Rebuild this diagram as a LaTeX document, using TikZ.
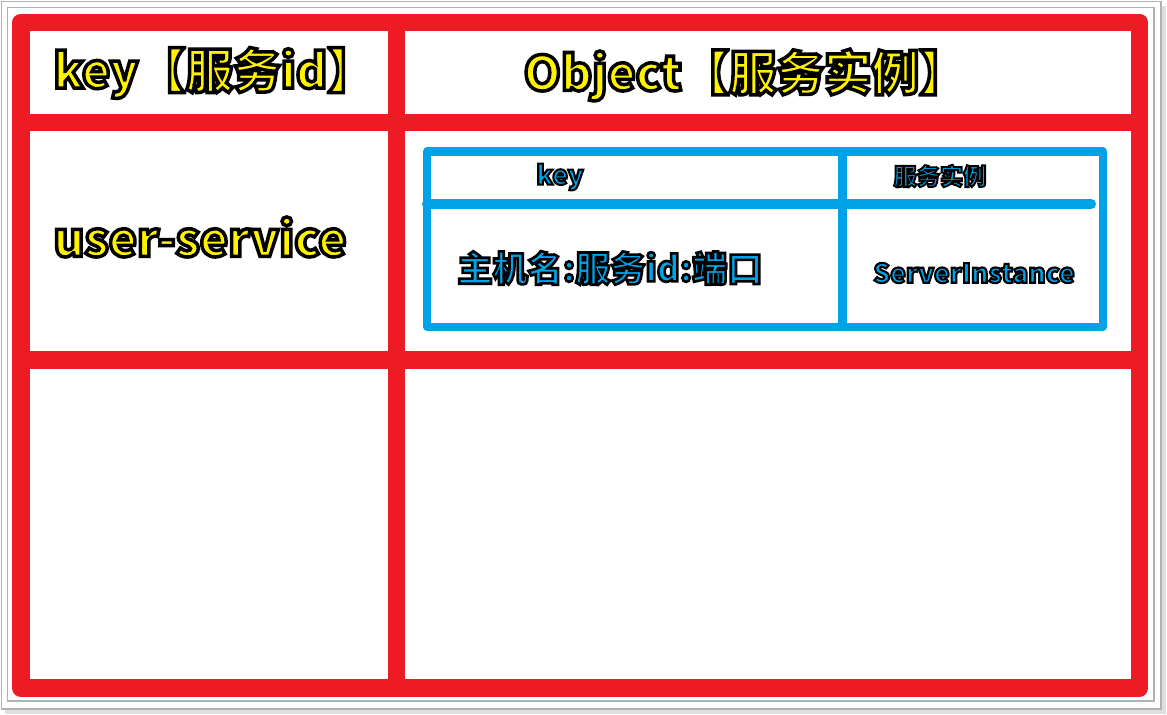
\documentclass[tikz,border=0pt]{standalone}
\usepackage{fontspec}
\newfontfamily\cjk{Noto Sans CJK SC}[BoldFont={Noto Sans CJK SC Black}]
\usetikzlibrary{positioning}
\definecolor{framered}{RGB}{237,28,36}
\definecolor{tableblue}{RGB}{0,162,232}
\definecolor{labelyellow}{RGB}{255,242,0}
\newcommand{\outlined}[3]{{\color{#1}\special{pdf:literal direct 0 0 0 RG 2 Tr #2 w}#3\special{pdf:literal direct 0 Tr}}}
\tikzset{
  redline/.style={draw=framered, line width=10.2pt, line join=round},
  blueline/.style={draw=tableblue, line width=4.6pt, line join=round},
  biglabel/.style={inner sep=0pt, font=\cjk\bfseries\fontsize{27}{30}\selectfont},
  midlabel/.style={inner sep=0pt, font=\cjk\bfseries\fontsize{20}{24}\selectfont},
  smalllabel/.style={inner sep=0pt, font=\cjk\bfseries\fontsize{15}{18}\selectfont}
}

\begin{document}
\begin{tikzpicture}[x=0.02cm, y=-0.02cm]
        \useasboundingbox (0,0) rectangle (1167,715);
        \fill[white] (0,0) rectangle (1167,715);
        \fill[gray!25] (5,6) rectangle (1166,714);
        \fill[white, draw=gray!60, line width=0.6pt] (1.5,1.5) rectangle (1161,709);
        \draw[gray!60, line width=0.6pt] (7.5,7.5) rectangle (1154,701);
        \draw[redline] (21,22.5) rectangle (1139.5,688);
        \draw[redline] (396.5,22.5) -- (396.5,688);
        \draw[redline] (21,122.5) -- (1139.5,122.5);
        \draw[redline] (21,360) -- (1139.5,360);
        \draw[blueline] (427,151.5) rectangle (1103,327);
        \draw[blueline] (842.5,151.5) -- (842.5,327);
        \draw[draw=tableblue, line width=5.7pt, line cap=round] (427,204) -- (1091,204);
        \node[biglabel] (kh) at (214,73) {\outlined{labelyellow}{2.0}{key【服务id】}};
        \node[biglabel] (oh) at (745,75) {\outlined{labelyellow}{2.0}{Object【服务实例】}};
        \node[biglabel] (us) at (200,237) {\outlined{labelyellow}{2.0}{user-service}};
        \node[smalllabel] (ik) at (560,177) {\outlined{tableblue}{1.2}{key}};
        \node[smalllabel, font=\cjk\bfseries\fontsize{13.2}{16}\selectfont] (ii) at (940,176) {\outlined{tableblue}{1.1}{服务实例}};
        \node[midlabel] (hk) at (610,268) {\outlined{tableblue}{1.5}{主机名:服务id:端口}};
        \node[smalllabel] (si) at (974,273) {\outlined{tableblue}{1.2}{ServerInstance}};
      \end{tikzpicture}
\end{document}
